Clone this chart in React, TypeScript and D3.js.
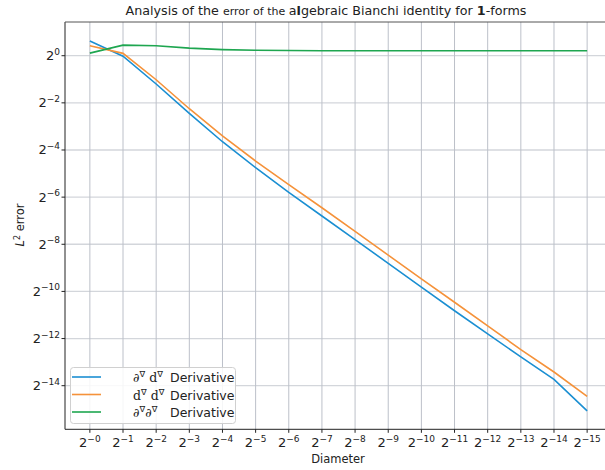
import React from "react";
import * as d3 from "d3";

// x: diameter exponents (diameter = 2^-k)
const diamExps = [0, 1, 2, 3, 4, 5, 6, 7, 8, 9, 10, 11, 12, 13, 14, 15];
// log2 of L2 error per series
const blueErr = [0.62, -0.02, -1.2, -2.45, -3.65, -4.75, -5.8, -6.8, -7.8, -8.81, -9.82, -10.82, -11.8, -12.78, -13.73, -15.07];
const orangeErr = [0.42, 0.1, -1.02, -2.25, -3.4, -4.47, -5.47, -6.45, -7.45, -8.46, -9.47, -10.46, -11.46, -12.47, -13.42, -14.45];
const greenErr = [0.11, 0.45, 0.42, 0.32, 0.26, 0.23, 0.22, 0.21, 0.21, 0.21, 0.21, 0.21, 0.21, 0.21, 0.21, 0.21];
const yTickExps = [0, -2, -4, -6, -8, -10, -12, -14];
const seriesNames = [
  { a: "∂", b: "d", gap: true },
  { a: "d", b: "d", gap: true },
  { a: "∂", b: "∂", gap: false },
];
const colors = ["#1b8fd2", "#f5923a", "#1ea650"];

const W = 605, H = 470;
const L = 65, R = 612, T = 22, B = 429.3;

export default function App() {
  const x = d3.scaleLog().base(2).domain([Math.pow(2, 0.75), Math.pow(2, -15.75)]).range([L, R]);
  const y = d3.scaleLog().base(2).domain([Math.pow(2, -15.85), Math.pow(2, 1.43)]).range([B, T]);
  const line = d3
    .line<[number, number]>()
    .x((d) => x(Math.pow(2, -d[0])))
    .y((d) => y(Math.pow(2, d[1])));
  const series = [blueErr, orangeErr, greenErr];
  const font = "DejaVu Sans, sans-serif";
  return (
    <svg width={W} height={H} style={{ position: "absolute", left: 0, top: 0, background: "#fff" }} fontFamily={font}>
      <defs>
        <clipPath id="plot">
          <rect x={L} y={T} width={R - L} height={B - T} />
        </clipPath>
      </defs>
      {/* grid */}
      {yTickExps.map((e) => (
        <line key={"hy" + e} x1={L} x2={R} y1={y(Math.pow(2, e))} y2={y(Math.pow(2, e))} stroke="#d3d6db" strokeWidth={1.3} />
      ))}
      {diamExps.map((k) => (
        <line key={"vx" + k} x1={x(Math.pow(2, -k))} x2={x(Math.pow(2, -k))} y1={T} y2={B} stroke="#bcc0c9" strokeWidth={1} />
      ))}
      {/* lines */}
      <g clipPath="url(#plot)">
        {series.map((s, i) => (
          <path
            key={i}
            d={line(diamExps.map((k, j) => [k, s[j]] as [number, number])) || ""}
            fill="none"
            stroke={colors[i]}
            strokeWidth={1.6}
          />
        ))}
      </g>
      {/* spines */}
      <line x1={L} x2={L} y1={T} y2={B} stroke="#222" strokeWidth={1} />
      <line x1={L} x2={R} y1={B} y2={B} stroke="#222" strokeWidth={1} />
      <line x1={L} x2={R} y1={T} y2={T} stroke="#555" strokeWidth={1} />
      {/* x ticks */}
      {diamExps.map((k) => {
        const xx = x(Math.pow(2, -k));
        return (
          <g key={"xt" + k}>
            <line x1={xx} x2={xx} y1={B} y2={B + 3.5} stroke="#222" />
            <text x={xx} y={B + 18} fontSize={13} textAnchor="middle" fill="#222">
              2<tspan dy={-5.5} fontSize={9}>{"−" + k}</tspan>
            </text>
          </g>
        );
      })}
      {/* y ticks */}
      {yTickExps.map((e) => {
        const yy = y(Math.pow(2, e));
        return (
          <g key={"yt" + e}>
            <line x1={L - 3.5} x2={L} y1={yy} y2={yy} stroke="#222" />
            <text x={L - 5} y={yy + 4.5} fontSize={13} textAnchor="end" fill="#222">
              2<tspan dy={-5.5} fontSize={9}>{e === 0 ? "0" : "−" + -e}</tspan>
            </text>
          </g>
        );
      })}
      {/* axis labels */}
      <text x={338} y={463} fontSize={11.5} textAnchor="middle" fill="#222">Diameter</text>
      <text transform={`translate(24,${225}) rotate(-90)`} fontSize={11.5} textAnchor="middle" fill="#222">
        <tspan fontStyle="italic">L</tspan>
        <tspan dy={-4} fontSize={8}>2</tspan>
        <tspan dy={4}> error</tspan>
      </text>
      {/* title */}
      <text x={326} y={15} fontSize={12.7} textAnchor="middle" fill="#222">
        Analysis of the <tspan fontSize={11}>error of the </tspan>a<tspan fontWeight="bold">l</tspan>gebraic Bianchi identity for <tspan fontWeight="bold">1</tspan>-forms
      </text>
      {/* legend */}
      <rect x={70.5} y={367.5} width={165} height={56} rx={3} fill="#fff" fillOpacity={0.85} stroke="#d0d0d0" />
      {seriesNames.map((n, i) => {
        const yy = 377 + i * 17.5;
        return (
          <g key={"lg" + i}>
            <line x1={72} x2={101} y1={yy} y2={yy} stroke={colors[i]} strokeWidth={1.6} />
            <text x={133} y={yy + 5} fontSize={12.5} fill="#222">
              <tspan fontFamily="DejaVu Serif, serif">{n.a}</tspan>
              <tspan dy={-5} fontSize={8.5} fontFamily="DejaVu Sans, sans-serif">∇</tspan>
              <tspan dy={5} fontFamily="DejaVu Serif, serif">{(n.gap ? " " : "") + n.b}</tspan>
              <tspan dy={-5} fontSize={8.5}>∇</tspan>
              <tspan dy={5} x={170}>Derivative</tspan>
            </text>
          </g>
        );
      })}
    </svg>
  );
}
